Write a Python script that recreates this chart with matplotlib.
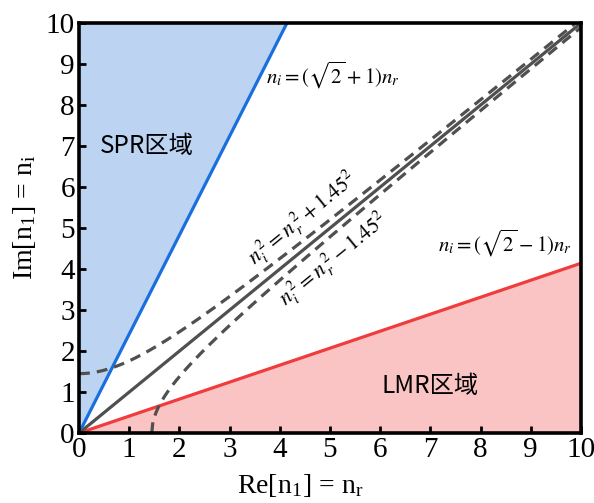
import matplotlib.pyplot as plt
import numpy as np

# slopes of the boundary lines and the offset of the hyperbolae
SLOPE_SPR = np.sqrt(2) + 1
SLOPE_LMR = np.sqrt(2) - 1
OFFSET = 1.45

X_LIMITS = [0, 10]
Y_LIMITS = [0, 10]
TICKS = list(range(0, 11))

plt.rcParams['mathtext.fontset'] = 'stix'
plt.rcParams['font.family'] = ['Liberation Serif', 'DejaVu Serif']

fig = plt.figure(figsize=(5.94, 5.03), dpi=100)
ax = fig.add_axes([0.133, 0.139, 0.845, 0.815])

x = np.linspace(0, 10, 500)

# SPR region (above blue line)
xs = np.linspace(0, 10 / SLOPE_SPR, 100)
ax.fill_between(xs, xs * SLOPE_SPR, 10, color='#bcd4f2', lw=0)
ax.plot(xs, xs * SLOPE_SPR, color='#1a6fdf', lw=2.3)

# LMR region (below red line)
ax.fill_between(x, 0, x * SLOPE_LMR, color='#fac4c4', lw=0)
ax.plot(x, x * SLOPE_LMR, color='#f03c3c', lw=2.3)

# y = x
ax.plot(x, x, color='#505050', lw=2.3)

# hyperbolae
ax.plot(x, np.sqrt(x**2 + OFFSET**2), color='#505050', lw=2.3,
        ls=(0, (3.4, 2.2)))
xl = np.linspace(OFFSET, 10, 500)
ax.plot(xl, np.sqrt(xl**2 - OFFSET**2), color='#505050', lw=2.3,
        ls=(0, (3.4, 2.2)))

ax.set_xlim(X_LIMITS)
ax.set_ylim(Y_LIMITS)
ax.set_xticks(TICKS)
ax.set_yticks(TICKS)
ax.tick_params(direction='in', length=5, width=2, labelsize=21, pad=3)
for s in ax.spines.values():
    s.set_linewidth(2.6)

ax.set_xlabel(r'Re[n$_\mathregular{1}$] = n$_\mathregular{r}$', fontsize=20)
ax.set_ylabel(r'Im[n$_\mathregular{1}$] = n$_\mathregular{i}$', fontsize=20)
ax.xaxis.set_label_coords(0.44, -0.095)
ax.yaxis.set_label_coords(-0.082, 0.527)

cjk = ['Noto Sans CJK SC', 'DejaVu Sans']
ax.text(1.35, 7.0, 'SPR区域', family=cjk, fontsize=17.5, ha='center', va='center')
ax.text(7.0, 1.15, 'LMR区域', family=cjk, fontsize=17.5, ha='center', va='center')

ax.text(5.06, 8.73, r'$n_i=(\sqrt{2}+1)n_r$', fontsize=15, ha='center', va='center')
ax.text(8.49, 4.63, r'$n_i=(\sqrt{2}-1)n_r$', fontsize=15, ha='center', va='center')

ax.text(3.6, 3.93, r'$n_i^{\,2}=n_r^{\,2}+1.45^2$', fontsize=15.5, ha='left',
        va='bottom', rotation=45, rotation_mode='anchor',
        transform_rotates_text=True)
ax.text(3.87, 3.47, r'$n_i^{\,2}=n_r^{\,2}-1.45^2$', fontsize=15.5, ha='left',
        va='top', rotation=45, rotation_mode='anchor',
        transform_rotates_text=True)

fig.savefig('out.png', dpi=100, facecolor='white')
